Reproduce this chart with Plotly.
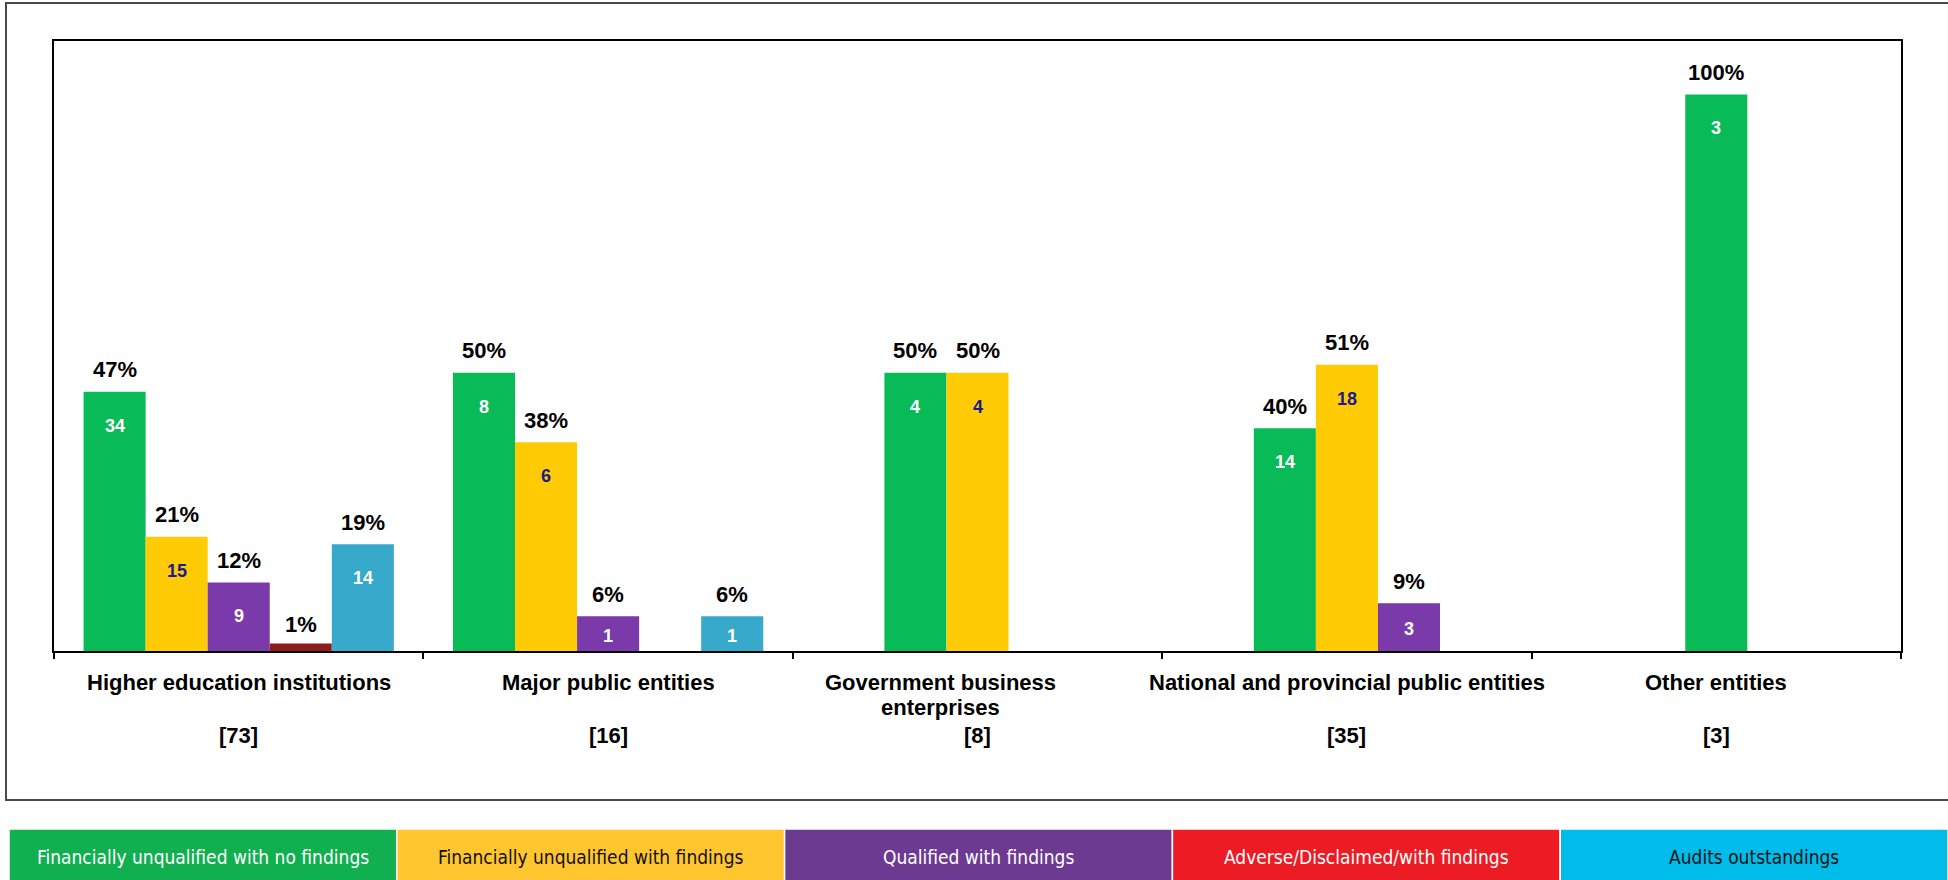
import plotly.graph_objects as go

# ---------------- data ----------------
categories = ["Higher education institutions", "Major public entities",
              "Government business<br>enterprises",
              "National and provincial public entities", "Other entities"]
totals = [73, 16, 8, 35, 3]

series_names = ["Financially unqualified with no findings",
                "Financially unqualified with findings",
                "Qualified with findings",
                "Adverse/Disclaimed/with findings",
                "Audits outstandings"]
# counts per category (None = series not shown in that category)
unqualified_no_findings = [34, 8, 4, 14, 3]
unqualified_with_findings = [15, 6, 4, 18, None]
qualified_with_findings = [9, 1, 0, 3, None]
adverse_disclaimed = [1, 0, None, None, None]
audits_outstanding = [14, 1, None, None, None]

series_counts = [unqualified_no_findings, unqualified_with_findings,
                 qualified_with_findings, adverse_disclaimed, audits_outstanding]

# ---------------- styles ----------------
bar_colors = ["#09BB57", "#FFCB05", "#7A3AAA", "#8E1C1C", "#37A9CB"]
count_colors = ["white", "#1B1B8C", "white", "white", "white"]
legend_fill = ["#10AF4F", "#FFC62F", "#6D3A92", "#ED1C24", "#00BCEB"]
legend_text = ["white", "#111111", "white", "white", "#111111"]
FONT = "Liberation Sans, Arial, sans-serif"
NARROW = "Liberation Sans Narrow, DejaVu Sans Condensed, Liberation Sans, sans-serif"

W, H = 1948, 880
L, R, T, B = 54, 47, 41, 229
PW, PH = W - L - R, H - T - B
bw = 0.168  # bar width in category units
YMAX = 109.6
PX_PER_UNIT = PH / YMAX


def px_x(p):
    return (p - L) / PW


def px_y(p):
    return (H - B - p) / PH


fig = go.Figure()
annotations = []

positions = {s: ([], [], []) for s in range(len(series_counts))}
for g in range(len(categories)):
    members = [s for s in range(len(series_counts)) if series_counts[s][g] is not None]
    n = len(members)
    for k, s in enumerate(members):
        cnt = series_counts[s][g]
        xpos = g + (k - (n - 1) / 2) * bw
        pct = cnt / totals[g] * 100
        positions[s][0].append(xpos)
        positions[s][1].append(pct)
        positions[s][2].append(cnt)
        if cnt > 0:
            bar_px = pct * PX_PER_UNIT
            annotations.append(dict(x=xpos, y=pct, xref="x", yref="y",
                                    text=f"{int(pct + 0.5)}%", showarrow=False,
                                    yanchor="middle", yshift=22 if bar_px > 12 else 19,
                                    font=dict(family=FONT, size=22, color="black", weight="bold")))
            if bar_px > 12:
                annotations.append(dict(x=xpos, y=pct, xref="x", yref="y",
                                        text=str(cnt), showarrow=False,
                                        yanchor="middle", yshift=-min(34, bar_px / 2 + 2),
                                        font=dict(family=FONT, size=18, color=count_colors[s],
                                                  weight="bold")))

for s in range(len(series_counts)):
    xs, ys, cs = positions[s]
    fig.add_trace(go.Bar(x=xs, y=ys, width=bw, name=series_names[s],
                         marker=dict(color=bar_colors[s], line=dict(width=0)),
                         showlegend=False, hoverinfo="skip"))

# category labels (each line placed separately for tighter spacing)
label_shift = {2: -37}
for g, cat in enumerate(categories):
    for li, line in enumerate(cat.split("<br>")):
        annotations.append(dict(x=g, y=px_y(682 + li * 25), xref="x", yref="paper", text=line,
                                showarrow=False, yanchor="middle", xshift=label_shift.get(g, 0),
                                font=dict(family=FONT, size=22, color="black", weight="bold")))
    annotations.append(dict(x=g, y=px_y(735), xref="x", yref="paper", text=f"[{totals[g]}]",
                            showarrow=False, yanchor="middle",
                            font=dict(family=FONT, size=22, color="black", weight="bold")))

shapes = []
# outer frame (right side runs off the page)
shapes.append(dict(type="rect", xref="paper", yref="paper",
                   x0=px_x(6), x1=px_x(1970), y0=px_y(800), y1=px_y(3),
                   line=dict(color="#4a4a4a", width=2), fillcolor="rgba(0,0,0,0)", layer="below"))

# legend strip
lx0, lx1 = 9, 1948
seg = (lx1 - lx0) / len(series_names)
for i, name in enumerate(series_names):
    a, b = lx0 + i * seg, lx0 + (i + 1) * seg
    shapes.append(dict(type="rect", xref="paper", yref="paper",
                       x0=px_x(a), x1=px_x(b), y0=px_y(884), y1=px_y(829),
                       line=dict(color="white", width=1.5), fillcolor=legend_fill[i]))
    annotations.append(dict(x=px_x((a + b) / 2), y=px_y(857), xref="paper", yref="paper",
                            text=name, showarrow=False, yanchor="middle", xanchor="center",
                            font=dict(family=NARROW, size=19, color=legend_text[i])))

fig.update_layout(
    width=W, height=H,
    margin=dict(l=L, r=R, t=T, b=B, pad=0),
    paper_bgcolor="white", plot_bgcolor="white",
    barmode="overlay",
    xaxis=dict(range=[-0.5, len(categories) - 0.5],
               tickvals=[i - 0.5 for i in range(len(categories) + 1)],
               showticklabels=False, ticks="outside", ticklen=6, tickwidth=2, tickcolor="black",
               showline=True, linecolor="black", linewidth=2, mirror=True,
               showgrid=False, zeroline=False, fixedrange=True),
    yaxis=dict(range=[0, YMAX], showticklabels=False, ticks="",
               showline=True, linecolor="black", linewidth=2, mirror=True,
               showgrid=False, zeroline=False, fixedrange=True),
    annotations=annotations,
    shapes=shapes,
)

fig.write_html("out.html", config={"displayModeBar": False},
               post_script="document.body.style.margin='0px';document.body.style.overflow='hidden';")
